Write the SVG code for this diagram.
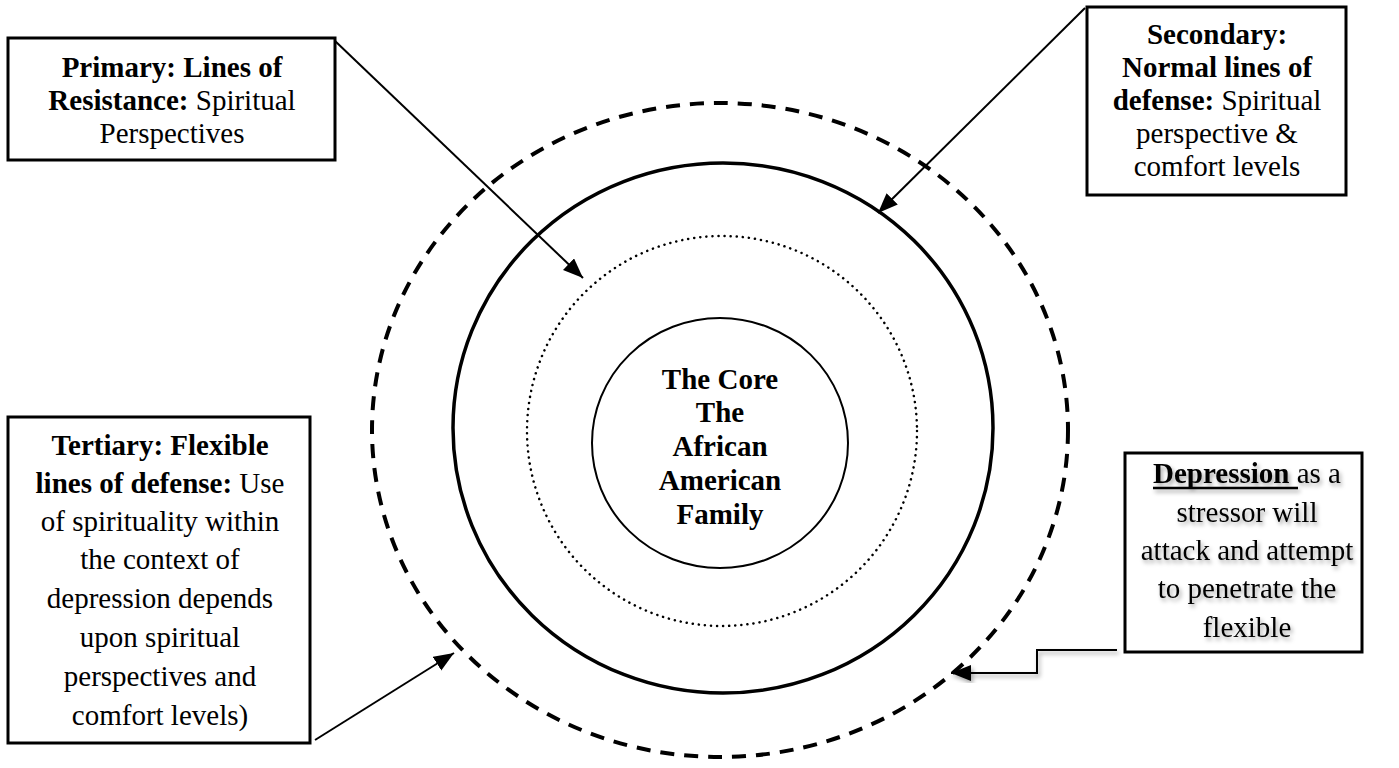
<svg xmlns="http://www.w3.org/2000/svg" width="1399" height="768" viewBox="0 0 1399 768">
<style>
.box{fill:#fff;stroke:#000;stroke-width:3}
.t{font-family:"Liberation Serif","Times New Roman",serif;font-size:29px;fill:#000;text-anchor:middle}
.b{font-weight:bold}
.conn{fill:none;stroke:#000;stroke-width:2}
</style>
<defs>
<marker id="ah" markerUnits="userSpaceOnUse" markerWidth="24" markerHeight="20" refX="20" refY="8" orient="auto">
<path d="M0,0 L20,8 L0,16 Z" fill="#000"/>
</marker>
<filter id="sh" x="-10%" y="-20%" width="130%" height="160%">
<feDropShadow dx="2" dy="3" stdDeviation="2" flood-color="#000" flood-opacity="0.35"/>
</filter>
</defs>
<rect width="1399" height="768" fill="#fff"/>
<g id="rings">
<ellipse id="flexible" cx="720" cy="430" rx="348" ry="327" fill="none" stroke="#000" stroke-width="4" stroke-dasharray="14 10"/>
<ellipse id="normal" cx="723" cy="428" rx="270" ry="265" fill="none" stroke="#000" stroke-width="3.5"/>
<circle id="resistance" cx="722" cy="431" r="195" fill="none" stroke="#000" stroke-width="2.5" stroke-dasharray="0.1 6" stroke-linecap="round"/>
</g>
<g id="core">
<ellipse cx="720" cy="443" rx="128" ry="125" fill="none" stroke="#000" stroke-width="2"/>
<text class="t b" x="720" y="389">The Core</text>
<text class="t b" x="720" y="422">The</text>
<text class="t b" x="720" y="456">African</text>
<text class="t b" x="720" y="490">American</text>
<text class="t b" x="720" y="524">Family</text>
</g>
<g id="connectors">
<line class="conn" x1="334" y1="40" x2="583" y2="278" marker-end="url(#ah)"/>
<line class="conn" x1="1085" y1="8" x2="878" y2="213" marker-end="url(#ah)"/>
<line class="conn" x1="315" y1="740" x2="454" y2="653" marker-end="url(#ah)"/>
<polyline class="conn" points="1117,650 1037,650 1037,673 951,673" marker-end="url(#ah)" filter="url(#sh)"/>
</g>
<g id="primary">
<rect class="box" x="8" y="38" width="327" height="122"/>
<text class="t b" x="172" y="77">Primary: Lines of</text>
<text class="t" x="172" y="110"><tspan class="b">Resistance:</tspan> Spiritual</text>
<text class="t" x="172" y="143">Perspectives</text>
</g>
<g id="secondary">
<rect class="box" x="1087" y="7" width="259" height="188"/>
<text class="t b" x="1217" y="44">Secondary:</text>
<text class="t b" x="1217" y="77">Normal lines of</text>
<text class="t" x="1217" y="110"><tspan class="b">defense:</tspan> Spiritual</text>
<text class="t" x="1217" y="143">perspective &amp;</text>
<text class="t" x="1217" y="176">comfort levels</text>
</g>
<g id="tertiary">
<rect class="box" x="8" y="417" width="302" height="326"/>
<text class="t b" x="160" y="455">Tertiary: Flexible</text>
<text class="t" x="160" y="493"><tspan class="b">lines of defense:</tspan> Use</text>
<text class="t" x="160" y="531">of spirituality within</text>
<text class="t" x="160" y="569">the context of</text>
<text class="t" x="160" y="608">depression depends</text>
<text class="t" x="160" y="647">upon spiritual</text>
<text class="t" x="160" y="686">perspectives and</text>
<text class="t" x="160" y="725">comfort levels)</text>
</g>
<g id="depression">
<rect class="box" x="1125" y="453" width="237" height="199"/>
<g filter="url(#sh)">
<text class="t" x="1247" y="483"><tspan class="b">Depression</tspan> as a</text>
<line x1="1153" y1="488" x2="1298" y2="488" stroke="#000" stroke-width="2.5"/>
<text class="t" x="1247" y="522">stressor will</text>
<text class="t" x="1247" y="560">attack and attempt</text>
<text class="t" x="1247" y="598">to penetrate the</text>
<text class="t" x="1247" y="637">flexible</text>
</g>
</g>
</svg>
